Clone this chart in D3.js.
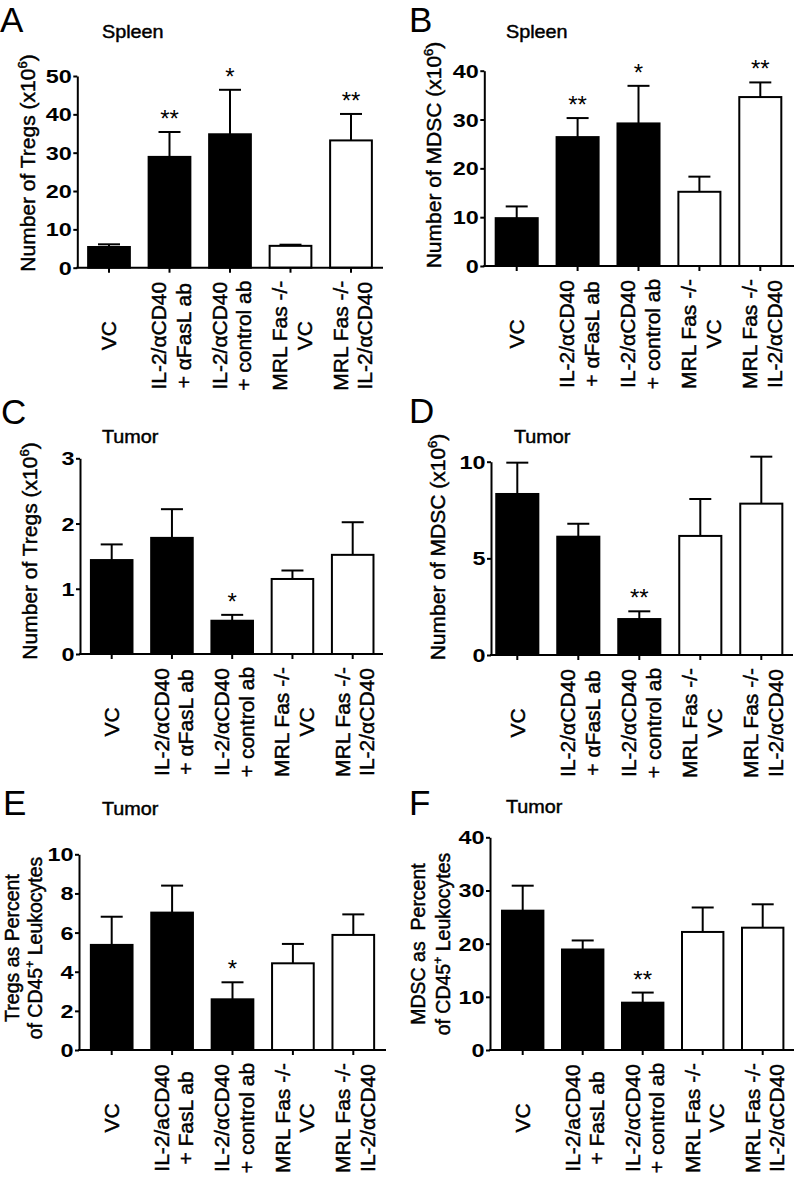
<!DOCTYPE html>
<html><head><meta charset="utf-8">
<script src="https://cdn.jsdelivr.net/npm/d3@7"></script>
<style>body{margin:0;background:#fff} svg{display:block}</style>
</head><body>
<svg id="c" width="796" height="1184"></svg>
<script>
// ---------- data ----------
const groupsAD = [["VC"],["IL-2/αCD40","+ αFasL ab"],["IL-2/αCD40","+ control ab"],["MRL Fas -/-","VC"],["MRL Fas -/-","IL-2/αCD40"]];
const groupsEF = [["VC"],["IL-2/aCD40","+ FasL ab"],["IL-2/αCD40","+ control ab"],["MRL Fas -/-","VC"],["MRL Fas -/-","IL-2/αCD40"]];
const barFill = ["#000","#000","#000","#fff","#fff"];

const meanA = [5.4, 28.9, 34.8, 5.7, 33.2];
const semA  = [0.7, 6.5, 11.6, 0.3, 6.9];
const starA = ["", "**", "*", "", "**"];
const ticksA = [0,10,20,30,40,50];

const meanB = [9.8, 26.4, 29.2, 15.2, 34.6];
const semB  = [2.4, 3.9, 7.7, 3.1, 3.0];
const starB = ["", "**", "*", "", "**"];
const ticksB = [0,10,20,30,40];

const meanC = [1.44, 1.78, 0.51, 1.15, 1.52];
const semC  = [0.24, 0.44, 0.09, 0.13, 0.50];
const starC = ["", "", "*", "", ""];
const ticksC = [0,1,2,3];

const meanD = [8.33, 6.12, 1.86, 6.16, 7.83];
const semD  = [1.62, 0.67, 0.40, 1.91, 2.43];
const starD = ["", "", "**", "", ""];
const ticksD = [0,5,10];

const meanE = [5.37, 7.02, 2.59, 4.43, 5.88];
const semE  = [1.44, 1.38, 0.87, 0.99, 1.05];
const starE = ["", "", "*", "", ""];
const ticksE = [0,2,4,6,8,10];

const meanF = [26.2, 18.9, 8.9, 22.2, 23.0];
const semF  = [4.7, 1.7, 1.9, 4.6, 4.4];
const starF = ["", "", "**", "", ""];
const ticksF = [0,10,20,30,40];

// ---------- layout ----------
const FONT = "Arial, 'Liberation Sans', Helvetica, sans-serif";
const svg = d3.select("#c");

const panels = [
 {letter:"A", lx:0, ly:32, title:"Spleen", tx:102, ty:38.5,
  ylab:[[{t:"Number of Tregs (x10"},{t:"6",sup:1},{t:")"}]], ylx:[28], yly:163, yfs:21,
  ax:77.3, y0:267.7, yT:76, ticks:ticksA, c0:109, step:60.5, xEnd:383,
  mean:meanA, sem:semA, star:starA, groups:groupsAD},
 {letter:"B", lx:409, ly:32, title:"Spleen", tx:506, ty:38.3,
  ylab:[[{t:"Number of MDSC (x10"},{t:"6",sup:1},{t:")"}]], ylx:[434], yly:155, yfs:21,
  ax:484.3, y0:266, yT:70.7, ticks:ticksB, c0:516.7, step:60.9, xEnd:794,
  mean:meanB, sem:semB, star:starB, groups:groupsAD},
 {letter:"C", lx:1, ly:424, title:"Tumor", tx:102, ty:443.3,
  ylab:[[{t:"Number of Tregs (x10"},{t:"6",sup:1},{t:")"}]], ylx:[30], yly:551, yfs:21,
  ax:80, y0:654, yT:458.3, ticks:ticksC, c0:111.7, step:60.25, xEnd:383,
  mean:meanC, sem:semC, star:starC, groups:groupsAD},
 {letter:"D", lx:409, ly:423, title:"Tumor", tx:514, ty:443.3,
  ylab:[[{t:"Number of MDSC (x10"},{t:"6",sup:1},{t:")"}]], ylx:[438], yly:547, yfs:21,
  ax:491, y0:655, yT:461.7, ticks:ticksD, c0:517.3, step:61, xEnd:793,
  mean:meanD, sem:semD, star:starD, groups:groupsAD},
 {letter:"E", lx:3, ly:815, title:"Tumor", tx:102, ty:815,
  ylab:[[{t:"Tregs as Percent"}],[{t:"of CD45"},{t:"+",sup:1},{t:" Leukocytes"}]], ylx:[11.7,35], yly:948, yfs:19.5,
  ax:79, y0:1050, yT:854.3, ticks:ticksE, c0:111.7, step:60.4, xEnd:386,
  mean:meanE, sem:semE, star:starE, groups:groupsEF},
 {letter:"F", lx:409, ly:815, title:"Tumor", tx:506, ty:813.3,
  ylab:[[{t:"MDSC as\u00a0\u00a0Percent"}],[{t:"of CD45"},{t:"+",sup:1},{t:" Leukocytes"}]], ylx:[418,443], yly:944, yfs:19.5,
  ax:490, y0:1050, yT:837.3, ticks:ticksF, c0:522.7, step:60, xEnd:794,
  mean:meanF, sem:semF, star:starF, groups:groupsEF}
];

function richText(sel, segs, fs) {
  let shifted = false;
  segs.forEach(s => {
    const ts = sel.append("tspan").text(s.t);
    if (s.sup) { ts.attr("font-size", fs*0.62).attr("dy", -fs*0.42); shifted = true; }
    else if (shifted) { ts.attr("dy", fs*0.42); shifted = false; }
  });
}

panels.forEach(p => {
  const g = svg.append("g").attr("font-family", FONT).attr("fill", "#000");
  const n = p.mean.length;
  const yMax = p.ticks[p.ticks.length-1];
  const y = d3.scaleLinear().domain([0, yMax]).range([p.y0, p.yT]);
  const x = d3.scaleBand().domain(d3.range(n))
      .range([p.c0 - p.step/2, p.c0 + (n-0.5)*p.step])
      .paddingInner(0.31).paddingOuter(0.155);
  const cx = i => x(i) + x.bandwidth()/2;
  const heavy = s => s.attr("stroke","#000").attr("stroke-width",0.45);

  // letter & title
  g.append("text").attr("x", p.lx).attr("y", p.ly).attr("font-size", 35).text(p.letter);
  heavy(g.append("text").attr("x", p.tx).attr("y", p.ty).attr("font-size", 18)
    .attr("transform", `translate(${p.tx},0) scale(1.1,1) translate(${-p.tx},0)`).text(p.title));

  // y-axis title
  p.ylab.forEach((segs, k) => {
    const t = g.append("text").attr("text-anchor","middle").attr("font-size", p.yfs)
      .attr("transform", `translate(${p.ylx[k]},${p.yly}) rotate(-90)`).attr("dy","0.35em");
    heavy(t);
    richText(t, segs, p.yfs);
  });

  // bars
  const bars = g.append("g");
  p.mean.forEach((m, i) => {
    const top = y(m + p.sem[i]);
    bars.append("line").attr("x1", cx(i)).attr("x2", cx(i)).attr("y1", y(m)).attr("y2", top)
      .attr("stroke","#000").attr("stroke-width",2);
    bars.append("line").attr("x1", cx(i)-11).attr("x2", cx(i)+11).attr("y1", top).attr("y2", top)
      .attr("stroke","#000").attr("stroke-width",2);
    bars.append("rect").attr("x", x(i)).attr("width", x.bandwidth())
      .attr("y", y(m)).attr("height", p.y0 - y(m))
      .attr("fill", barFill[i]).attr("stroke","#000").attr("stroke-width",2);
    if (p.star[i]) {
      bars.append("text").attr("x", cx(i)).attr("y", top - 5).attr("text-anchor","middle")
        .attr("font-size", 24).text(p.star[i]);
    }
  });

  // y axis
  const ya = g.append("g").attr("transform", `translate(${p.ax},0)`)
    .call(d3.axisLeft(y).tickValues(p.ticks).tickSize(4).tickSizeOuter(0).tickFormat(d3.format("d")));
  ya.select(".domain").attr("stroke-width", 2);
  ya.selectAll(".tick line").attr("stroke-width", 2);
  const sx = 1.3;
  ya.selectAll(".tick text").attr("font-size", 18).attr("font-family", FONT).attr("font-weight","bold")
    .attr("x", -5.5/sx).attr("transform", `scale(${sx},1)`).attr("dy","0.36em");

  // x axis
  const xa = g.append("g").attr("transform", `translate(0,${p.y0})`)
    .call(d3.axisBottom(x).tickSize(5).tickFormat(""));
  xa.select(".domain").remove();
  xa.selectAll(".tick line").attr("stroke-width", 2);
  g.append("line").attr("x1", p.ax - 1).attr("x2", p.xEnd).attr("y1", p.y0).attr("y2", p.y0)
    .attr("stroke","#000").attr("stroke-width",2);

  // x labels
  p.groups.forEach((lines, i) => {
    const offs = lines.length === 1 ? [0] : [-10.5, 14];
    lines.forEach((ln, k) => {
      heavy(g.append("text").attr("text-anchor","middle").attr("font-size", 21).attr("dy","0.35em")
        .attr("transform", `translate(${cx(i) + offs[k]},${p.y0 + 68}) rotate(-90)`).text(ln));
    });
  });
});
</script>
</body></html>
